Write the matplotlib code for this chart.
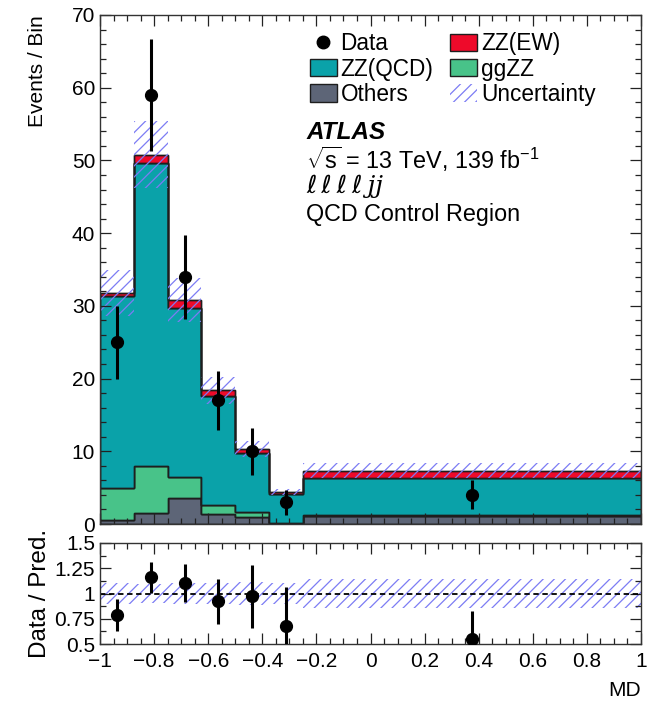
import numpy as np
import matplotlib
matplotlib.use("Agg")
import matplotlib.pyplot as plt
from matplotlib.patches import Patch
from matplotlib.lines import Line2D
from matplotlib.ticker import MultipleLocator, FuncFormatter

plt.rcParams['font.family'] = ['Liberation Sans', 'DejaVu Sans']
plt.rcParams['mathtext.fontset'] = 'custom'
plt.rcParams['mathtext.rm'] = 'Liberation Sans'
plt.rcParams['mathtext.it'] = 'Liberation Sans:italic'
plt.rcParams['hatch.linewidth'] = 0.9

# bins in MD
edges = [-1, -0.875, -0.75, -0.625, -0.5, -0.375, -0.25, 1]
centers = [-0.9375, -0.8125, -0.6875, -0.5625, -0.4375, -0.3125, 0.375]

# stacked predictions (events per bin)
others = [0.5, 1.5, 3.6, 1.4, 1.0, 0.15, 1.1]
ggzz = [4.5, 6.5, 2.9, 1.2, 0.6, 0.05, 0.1]
zz_qcd = [26.4, 41.6, 23.2, 15.0, 8.2, 3.9, 5.1]
zz_ew = [0.4, 1.2, 1.1, 0.8, 0.5, 0.3, 1.0]
rel_unc = [0.10, 0.09, 0.10, 0.10, 0.11, 0.10, 0.14]

data = [25, 59, 34, 17, 10, 3, 4]
data_err = [5.0, 7.7, 5.8, 4.1, 3.2, 1.7, 2.0]

c_others = '#5d6577'
c_ggzz = '#48c389'
c_qcd = '#0aa2a9'
c_ew = '#ee0a2a'
c_unc = '#7c7cf4'
c_edge = '#1e1e1e'


def fmt_num(v, pos):
    v = round(v, 6)
    if v == 0:
        v = 0.0
    return f'{v:g}'.replace('-', '\u2212')


W, H = 659, 709
fig = plt.figure(figsize=(W / 100, H / 100), dpi=100)
ax = fig.add_axes([100 / W, 1 - 524 / H, 541 / W, 509 / H])
rax = fig.add_axes([100 / W, 1 - 644 / H, 541 / W, 101 / H])

edges = np.array(edges)
base = np.zeros(len(others))
for vals, col in [(others, c_others), (ggzz, c_ggzz), (zz_qcd, c_qcd), (zz_ew, c_ew)]:
    top = base + np.array(vals)
    ax.stairs(top, edges, baseline=base, fill=True, facecolor=col,
              edgecolor=c_edge, lw=1.0)
    ax.stairs(top, edges, baseline=base, fill=False, color=c_edge, lw=1.0)
    base = top
pred = base
unc = pred * np.array(rel_unc)
ax.stairs(pred + unc, edges, baseline=pred - unc, fill=True, facecolor='none',
          edgecolor=c_unc, hatch='///', lw=0)

ax.errorbar(centers, data, yerr=data_err, fmt='o', color='black', ms=8.5,
            elinewidth=2.2, capsize=0, zorder=5)

ax.set_xlim(-1, 1)
ax.set_ylim(0, 70)
ax.yaxis.set_major_locator(MultipleLocator(10))
ax.yaxis.set_minor_locator(MultipleLocator(2))
ax.set_ylabel('Events / Bin', fontsize=15, loc='top')
ax.yaxis.set_label_coords(-0.098, 1.0)

# legend
handles = [
    Line2D([], [], marker='o', color='black', ls='none', ms=9),
    Patch(facecolor=c_qcd, edgecolor=c_edge, lw=1),
    Patch(facecolor=c_others, edgecolor=c_edge, lw=1),
    Patch(facecolor=c_ew, edgecolor=c_edge, lw=1),
    Patch(facecolor=c_ggzz, edgecolor=c_edge, lw=1),
    Patch(facecolor='none', edgecolor=c_unc, hatch='///', lw=0),
]
labels = ['Data', 'ZZ(QCD)', 'Others', 'ZZ(EW)', 'ggZZ', 'Uncertainty']
ax.legend(handles, labels, ncol=2, frameon=False, fontsize=16.3,
          loc='upper left', bbox_to_anchor=(0.388, 0.966),
          handlelength=1.2, handleheight=0.8, handletextpad=0.15,
          columnspacing=0.75, labelspacing=0.1, borderaxespad=0, borderpad=0)

tx = 0.381
ax.text(tx, 0.770, 'ATLAS', transform=ax.transAxes, fontsize=17.5,
        fontweight='bold', style='italic', va='center')
ax.text(tx, 0.716, r'$\sqrt{\mathrm{s}}$ = 13 TeV, 139 fb$^{\mathrm{-1}}$',
        transform=ax.transAxes, fontsize=16.8, va='center')
ax.text(tx, 0.664, 'ℓ\u2009ℓ\u2009ℓ\u2009ℓ\u2009jj', transform=ax.transAxes,
        fontsize=18, style='italic', va='center',
        family=['DejaVu Serif', 'DejaVu Sans'])
ax.text(tx, 0.609, 'QCD Control Region', transform=ax.transAxes,
        fontsize=16.8, va='center')

# ratio panel
ratio = np.array(data) / pred
ratio_err = np.array(data_err) / pred
rax.stairs(1 + np.array(rel_unc), edges, baseline=1 - np.array(rel_unc),
           fill=True, facecolor='none', edgecolor=c_unc, hatch='///', lw=0)
rax.axhline(1, color='black', ls=(0, (3, 2)), lw=1.3)
rax.errorbar(centers, ratio, yerr=ratio_err, fmt='o', color='black', ms=8.5,
             elinewidth=2.2, capsize=0, zorder=5)
rax.set_xlim(-1, 1)
rax.set_ylim(0.5, 1.5)
rax.yaxis.set_major_locator(MultipleLocator(0.25))
rax.yaxis.set_minor_locator(MultipleLocator(0.125))
rax.yaxis.set_major_formatter(FuncFormatter(fmt_num))
rax.set_ylabel('Data / Pred.', fontsize=17.5)
rax.yaxis.set_label_coords(-0.09, 0.5)
rax.xaxis.set_major_formatter(FuncFormatter(fmt_num))
fig.text(641 / W, 1 - 690 / H, 'MD', ha='right', va='center', fontsize=15)

for a in (ax, rax):
    a.xaxis.set_major_locator(MultipleLocator(0.2))
    a.xaxis.set_minor_locator(MultipleLocator(0.05))
    a.tick_params(which='both', direction='in', top=True, right=True,
                  labelsize=15, width=0.9, colors='#222222', labelcolor='black')
    a.tick_params(which='major', length=8)
    a.tick_params(which='minor', length=4.5)
    for s in a.spines.values():
        s.set_linewidth(1.0)
        s.set_color('#333333')
ax.tick_params(labelbottom=False)
rax.tick_params(axis='x', pad=6)

fig.savefig('out.png', dpi=100)
